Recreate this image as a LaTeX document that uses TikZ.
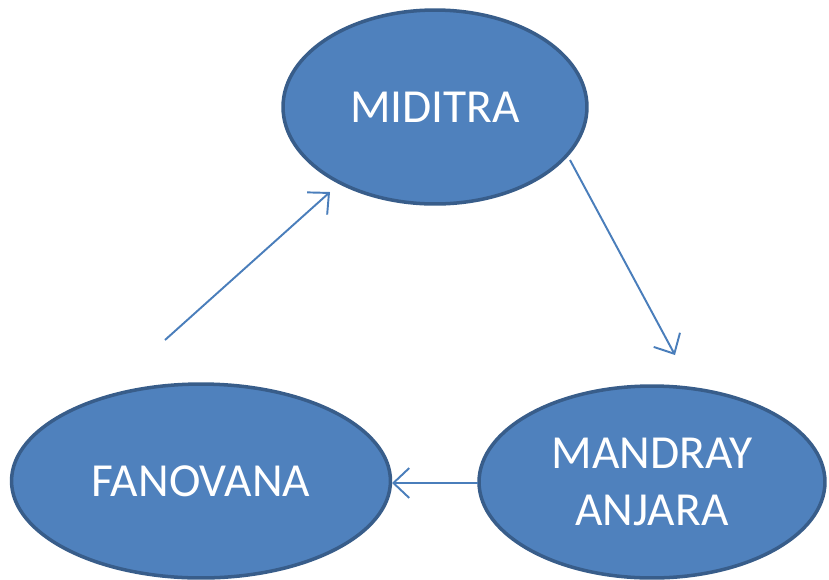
\documentclass[tikz,border=0pt]{standalone}
\usepackage{fontspec}
\setmainfont{Carlito}
\usetikzlibrary{shapes.geometric,arrows.meta}
\definecolor{bulle}{HTML}{4F81BD}
\definecolor{bord}{HTML}{385D8A}
\definecolor{fil}{HTML}{4A7EBB}
\begin{document}
\begin{tikzpicture}[
          x=0.02cm,y=-0.02cm,
          etape/.style = {ellipse,draw=bord,fill=bulle,line width=2pt,inner sep=0pt,
                          text=white,font=\fontsize{27}{32}\selectfont,align=center},
          fleche/.style = {draw=fil,line width=1.1pt,-{Straight Barb[length=9pt,width=17pt]}}
          ]
 \useasboundingbox (0,0) rectangle (829,579);
          \node[etape,minimum width=6.08cm,minimum height=3.88cm] (@mi) at (435,107) {MIDITRA};
          \node[etape,minimum width=7.58cm,minimum height=3.88cm] (@f) at (201,481) {FANOVANA};
          \node[etape,minimum width=6.92cm,minimum height=3.84cm] (@ma) at (652,482) {MANDRAY\\ANJARA};
          \coordinate (@a1) at (570,160);
          \coordinate (@a2) at (675,355);
          \coordinate (@b1) at (478,483);
          \coordinate (@b2) at (392,483);
          \coordinate (@c1) at (165,340);
          \coordinate (@c2) at (330,192);
          \draw[fleche] (@a1) -- (@a2);
          \draw[fleche] (@b1) -- (@b2);
          \draw[fleche] (@c1) -- (@c2);
        \end{tikzpicture}
\end{document}
